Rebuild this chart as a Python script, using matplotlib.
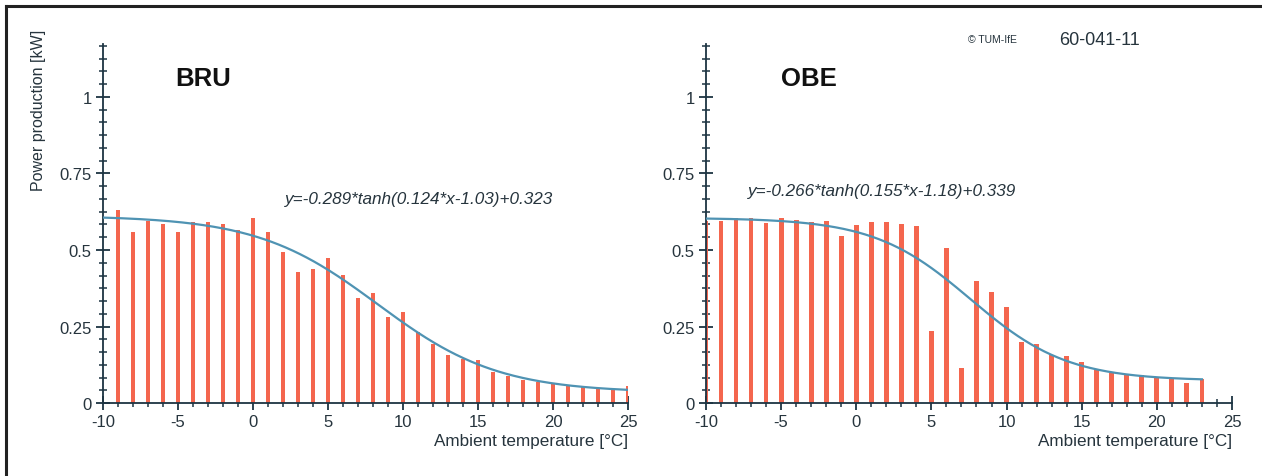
import numpy as np
import matplotlib.pyplot as plt
from matplotlib.ticker import MultipleLocator, FuncFormatter
from matplotlib.lines import Line2D

plt.rcParams['font.family'] = ['Liberation Sans', 'DejaVu Sans']
plt.rcParams['axes.unicode_minus'] = False

# BRU site, -9..25 degC
bru_temp = list(range(-9, 26))
bru_power = [0.632, 0.558, 0.596, 0.585, 0.558, 0.590, 0.590, 0.585, 0.566, 0.603,
             0.558, 0.492, 0.427, 0.438, 0.474, 0.418, 0.343, 0.358, 0.280, 0.298,
             0.233, 0.193, 0.157, 0.144, 0.142, 0.102, 0.087, 0.076, 0.070, 0.062,
             0.055, 0.055, 0.048, 0.042, 0.057]
bru_fit = (-0.289, 0.124, -1.03, 0.323)

# OBE site, -10..23 degC
obe_temp = list(range(-10, 24))
obe_power = [0.596, 0.596, 0.603, 0.603, 0.587, 0.603, 0.599, 0.592, 0.596, 0.546,
             0.581, 0.593, 0.592, 0.585, 0.577, 0.235, 0.508, 0.114, 0.400, 0.364,
             0.315, 0.200, 0.192, 0.156, 0.153, 0.134, 0.107, 0.098, 0.093, 0.091,
             0.083, 0.077, 0.066, 0.077]
obe_fit = (-0.266, 0.155, -1.18, 0.339)

bar_col = '#f4664e'
line_col = '#4f93b3'
axis_col = '#1c3442'
text_col = '#26343d'

fig = plt.figure(figsize=(12.62, 4.77), dpi=100)

# frame around the figure (left + top only, as in the scan)
fig.add_artist(Line2D([0.005, 0.005], [0.0, 0.986], transform=fig.transFigure, color='#222222', lw=2.2))
fig.add_artist(Line2D([0.005, 1.0], [0.986, 0.986], transform=fig.transFigure, color='#222222', lw=2.2))


def fmt(v, pos):
    s = ('%.2f' % v).rstrip('0').rstrip('.')
    return s


def draw(ax, temp, power, fit, xend, name, eq_xy, name_xy):
    ax.bar(temp, power, width=0.32, color=bar_col, zorder=2)
    a, b, c, d = fit
    xs = np.linspace(-10, xend, 300)
    ax.plot(xs, a * np.tanh(b * xs + c) + d, color=line_col, lw=1.6, zorder=3)
    ax.set_xlim(-10, 25)
    ax.set_ylim(0, 1.173)
    for s in ['top', 'right']:
        ax.spines[s].set_visible(False)
    for s in ['left', 'bottom']:
        ax.spines[s].set_color(axis_col)
        ax.spines[s].set_linewidth(1.3)
    ax.set_xticks(range(-10, 30, 5))
    ax.set_yticks([0, 0.25, 0.5, 0.75, 1])
    ax.yaxis.set_major_formatter(FuncFormatter(fmt))
    ax.xaxis.set_minor_locator(MultipleLocator(1))
    ax.yaxis.set_minor_locator(MultipleLocator(0.25 / 6))
    ax.tick_params(which='major', direction='inout', length=10, width=1.3, color=axis_col,
                   labelsize=12, labelcolor=text_col, pad=3)
    ax.tick_params(which='minor', direction='inout', length=6, width=1.1, color=axis_col)
    ax.set_xlabel('Ambient temperature [°C]', fontsize=12.3, color=text_col, loc='right', labelpad=3)
    ax.text(eq_xy[0], eq_xy[1], 'y=%.3f*tanh(%.3f*x%.2f)+%.3f' % (a, b, c, d),
            fontsize=12.3, style='italic', color=text_col, transform=ax.transData)
    ax.text(name_xy[0], name_xy[1], name, fontsize=18.5, fontweight='bold', color='#111111',
            transform=ax.transData)


ax1 = fig.add_axes([0.0816, 0.153, 0.416, 0.7526])
draw(ax1, bru_temp, bru_power, bru_fit, 25, 'BRU', (2.1, 0.655), (-5.2, 1.04))
ax1.set_ylabel('Power production [kW]', fontsize=11.5, color=text_col)
ax1.yaxis.set_label_coords(-0.108, 0.819)

ax2 = fig.add_axes([0.5594, 0.153, 0.4168, 0.7526])
draw(ax2, obe_temp, obe_power, obe_fit, 23, 'OBE', (-7.2, 0.68), (-5.0, 1.04))

fig.text(0.767, 0.909, '© TUM-IfE', fontsize=7.5, color=text_col)
fig.text(0.839, 0.906, '60-041-11', fontsize=13, color=text_col)

fig.savefig('out.png', dpi=100)
